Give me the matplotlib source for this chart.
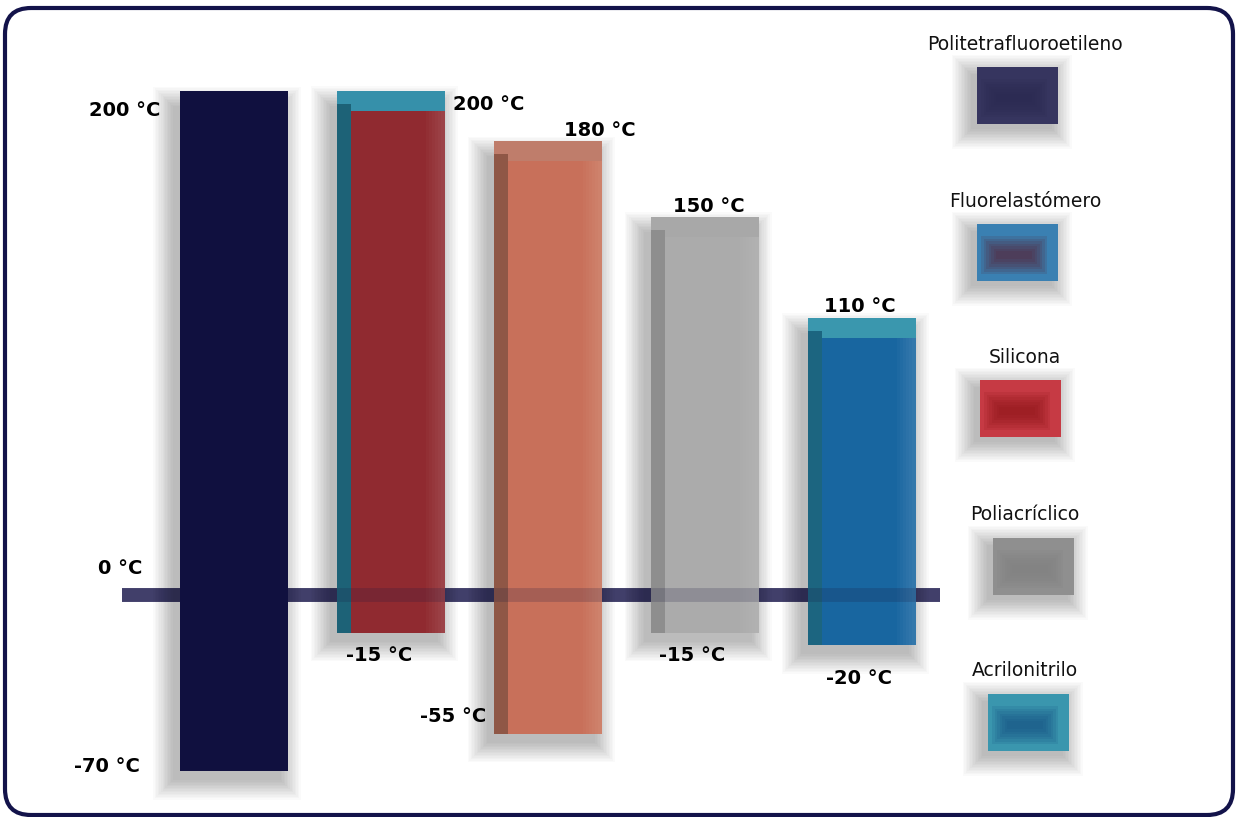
import matplotlib
matplotlib.use('Agg')
import matplotlib.pyplot as plt
from matplotlib.patches import Rectangle, FancyBboxPatch

# temperature ranges per material (°C)
materials = ['Politetrafluoroetileno', 'Fluorelastómero', 'Silicona', 'Poliacríclico', 'Acrilonitrilo']
t_min = [-70, -15, -55, -15, -20]
t_max = [200, 200, 180, 150, 110]

# look of each bar: outer (top strip), left strip, inner face
outer_col = ['#10103f', '#3690aa', '#bf7d6b', '#a8a8a8', '#3a97ae']
left_col = ['#10103f', '#1d6277', '#8f5746', '#8e8e8e', '#1c6580']
inner_col = ['#10103f', '#902a30', '#c8705a', '#ababab', '#1866a0']
# legend swatch colours (outer, inner)
sw_outer = ['#36355f', '#3a80b2', '#c63a44', '#8f8f8f', '#3a96ae']
sw_inner = ['#2a2950', '#5a1f30', '#8c1418', '#7f7f7f', '#134d80']

# label offsets in pixels (dx, dy, ha) for max / min labels
max_off = [(-74, -20, 'right'), (62, -13, 'left'), (52, 11, 'center'), (4, 10, 'center'), (-2, 11, 'center')]
min_off = [(-94, 5, 'right'), (-12, -23, 'center'), (-62, 17, 'right'), (-13, -23, 'center'), (-3, -33, 'center')]

W, H = 1236, 817
PX_DEG = 2.52      # pixels per degree
ZERO_PX = 595      # pixel row of 0 °C
X0_PX, STEP_PX = 234, 157
BAR_W = 108 / STEP_PX

fig = plt.figure(figsize=(W / 100, H / 100), dpi=100)
ax = fig.add_axes([0, 0, 1, 1])
ax.set_xlim(-X0_PX / STEP_PX, (W - X0_PX) / STEP_PX)
ax.set_ylim(-(H - ZERO_PX) / PX_DEG, ZERO_PX / PX_DEG)
ax.axis('off')

dx = 1 / STEP_PX   # one pixel in x data units
dy = 1 / PX_DEG    # one pixel in y data units


def soft_rect(a, x, y, w, h, ux, uy, color, z, n=14, grow=1.5, alpha=0.018, shrink=False):
    # stack of rectangles that fakes a blur
    for k in range(n):
        e = (-k if shrink else k) * grow
        a.add_patch(Rectangle((x - e * ux, y - e * uy), w + 2 * e * ux, h + 2 * e * uy,
                              fc=color, ec='none', alpha=alpha, zorder=z))


# zero line, under the bars
x_line = (-0.713, 4.497)
ax.hlines(0, *x_line, colors='#4b4975', lw=10, zorder=1)

for i in range(len(materials)):
    lo, hi = t_min[i], t_max[i]
    x = i - BAR_W / 2
    h = hi - lo
    z = 5 if i == 0 else 2
    soft_rect(ax, x - 7 * dx, lo - 9 * dy, BAR_W, h - 6 * dy, dx, dy, 'black', z - 0.5)
    ax.add_patch(Rectangle((x, lo), BAR_W, h, fc=outer_col[i], ec='none', zorder=z))
    if i > 0:
        ax.add_patch(Rectangle((x, lo), 14 * dx, h - 13 * dy, fc=left_col[i], ec='none', zorder=z))
        ax.add_patch(Rectangle((x + 14 * dx, lo), BAR_W - 14 * dx, h - 20 * dy,
                               fc=inner_col[i], ec='none', zorder=z))
        # lighter right edge, soft
        for k in range(6):
            ax.add_patch(Rectangle((x + BAR_W - (4 + 3 * k) * dx, lo), (4 + 3 * k) * dx, h - 20 * dy,
                                   fc='white', ec='none', alpha=0.025, zorder=z))

# zero line seen through the bars
ax.hlines(0, *x_line, colors='#1a1840', lw=10, alpha=0.2, zorder=3)

lab = dict(fontsize=14, fontweight='bold', color='black', va='center',
           textcoords='offset pixels', zorder=6)
for i in range(len(materials)):
    ox, oy, ha = max_off[i]
    ax.annotate(f'{t_max[i]} °C', (i, t_max[i]), xytext=(ox, oy), ha=ha, **lab)
    ox, oy, ha = min_off[i]
    ax.annotate(f'{t_min[i]} °C', (i, t_min[i]), xytext=(ox, oy), ha=ha, **lab)
ax.annotate('0 °C', (0, 0), xytext=(-92, 27), ha='right', **lab)

# overlay in pixel coordinates for legend and frame
ov = fig.add_axes([0, 0, 1, 1])
ov.set_xlim(0, W)
ov.set_ylim(H, 0)
ov.axis('off')
ov.patch.set_alpha(0)

leg_y = [44, 201, 357, 515, 671]
leg_sx = [977, 977, 980, 993, 988]
for i, name in enumerate(materials):
    ov.text(1025, leg_y[i], name, fontsize=13.5, ha='center', va='center', color='#111111')
    sx, sy = leg_sx[i], leg_y[i] + 23
    soft_rect(ov, sx - 6, sy + 7, 81, 55, 1, 1, 'black', 2)
    ov.add_patch(Rectangle((sx, sy), 81, 57, fc=sw_outer[i], ec='none', zorder=3))
    soft_rect(ov, sx + 4, sy + 12, 66, 38, 1, 1, sw_inner[i], 3.5, n=7, grow=2.5, alpha=0.14, shrink=True)

ov.add_patch(FancyBboxPatch((5, 8), 1228, 807, boxstyle='round,pad=0,rounding_size=26',
                            fc='none', ec='#13134a', lw=3, clip_on=False, zorder=10))

fig.savefig('out.png', dpi=100)
